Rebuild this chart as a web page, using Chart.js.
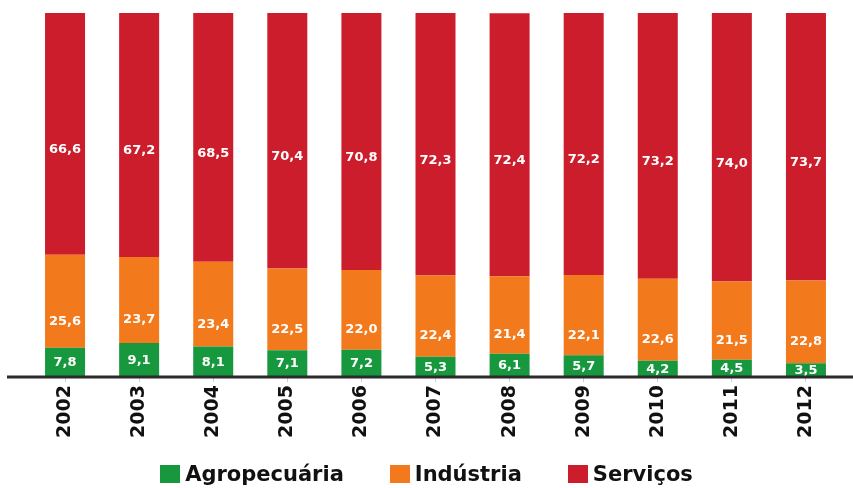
<!DOCTYPE html>
<html>
<head>
<meta charset="utf-8">
<script src="https://cdn.jsdelivr.net/npm/chart.js@4"></script>
<style>
  html, body { margin: 0; padding: 0; background: #fff; }
  #wrap { position: relative; width: 853px; height: 488px; }
  #legend {
    position: absolute; left: 0; top: 462px; width: 853px;
    display: flex; justify-content: center; align-items: center;
    font-family: "DejaVu Sans", sans-serif; font-weight: bold; font-size: 21px; color: #111;
  }
  #legend span.item { display: flex; align-items: center; margin: 0 23px; }
  #legend span.box { display: inline-block; width: 20px; height: 18px; margin-right: 5px; }
</style>
</head>
<body>
<div id="wrap">
  <canvas id="grafico" width="853" height="488"></canvas>
  <div id="legend"></div>
</div>
<script>
// anos
var anos = ['2002', '2003', '2004', '2005', '2006', '2007', '2008', '2009', '2010', '2011', '2012'];
// participação (%) de cada setor
var agropecuaria = [7.8, 9.1, 8.1, 7.1, 7.2, 5.3, 6.1, 5.7, 4.2, 4.5, 3.5];
var industria = [25.6, 23.7, 23.4, 22.5, 22.0, 22.4, 21.4, 22.1, 22.6, 21.5, 22.8];
var servicos = [66.6, 67.2, 68.5, 70.4, 70.8, 72.3, 72.4, 72.2, 73.2, 74.0, 73.7];

var setores = ['Agropecuária', 'Indústria', 'Serviços'];
var cores = ['#17983f', '#f27a1c', '#cc1d2c'];

// rótulos brancos dentro das barras
var rotulosPlugin = {
    id: 'rotulos',
    afterDatasetsDraw: function (chart) {
        var ctx = chart.ctx;
        var desloc = [1, 20, 16];
        ctx.save();
        ctx.font = 'bold 13px "DejaVu Sans", sans-serif';
        ctx.fillStyle = '#ffffff';
        ctx.textAlign = 'center';
        ctx.textBaseline = 'middle';
        chart.data.datasets.forEach(function (ds, i) {
            var meta = chart.getDatasetMeta(i);
            meta.data.forEach(function (el, j) {
                var y = (el.y + el.base) / 2 + desloc[i];
                ctx.fillText(ds.data[j].toFixed(1).replace('.', ','), el.x, y);
            });
        });
        ctx.restore();
    }
};

// linha de base que atravessa todo o gráfico
var baseLinePlugin = {
    id: 'baseLine',
    afterDraw: function (chart) {
        var ctx = chart.ctx;
        var y = chart.chartArea.bottom + 1;
        ctx.save();
        ctx.strokeStyle = '#2b2b2b';
        ctx.lineWidth = 3;
        ctx.beginPath();
        ctx.moveTo(7, y);
        ctx.lineTo(853, y);
        ctx.stroke();
        ctx.restore();
    }
};

var ctx = document.getElementById('grafico').getContext('2d');
var grafico = new Chart(ctx, {
    type: 'bar',
    data: {
        labels: anos,
        datasets: [
            { label: setores[0], data: agropecuaria, backgroundColor: cores[0] },
            { label: setores[1], data: industria, backgroundColor: cores[1] },
            { label: setores[2], data: servicos, backgroundColor: cores[2] }
        ]
    },
    options: {
        responsive: false,
        animation: false,
        layout: { padding: { left: 28, right: 10, top: 13, bottom: 0 } },
        datasets: { bar: { categoryPercentage: 1, barPercentage: 0.54 } },
        plugins: {
            legend: { display: false },
            tooltip: { enabled: false }
        },
        scales: {
            x: {
                stacked: true,
                afterFit: function (scale) { scale.height = 112; },
                border: { display: false },
                grid: { display: true, drawOnChartArea: false, offset: false, color: '#cfcfcf', tickLength: 6 },
                ticks: {
                    minRotation: 90, maxRotation: 90, padding: 3,
                    color: '#111',
                    font: { family: '"DejaVu Sans", sans-serif', weight: 'bold', size: 19 }
                }
            },
            y: {
                stacked: true,
                display: false,
                min: 0,
                max: 100
            }
        }
    },
    plugins: [rotulosPlugin, baseLinePlugin]
});

// legenda
var legenda = document.getElementById('legend');
setores.forEach(function (nome, i) {
    var item = document.createElement('span');
    item.className = 'item';
    var box = document.createElement('span');
    box.className = 'box';
    box.style.background = cores[i];
    item.appendChild(box);
    item.appendChild(document.createTextNode(nome));
    legenda.appendChild(item);
});
</script>
</body>
</html>
